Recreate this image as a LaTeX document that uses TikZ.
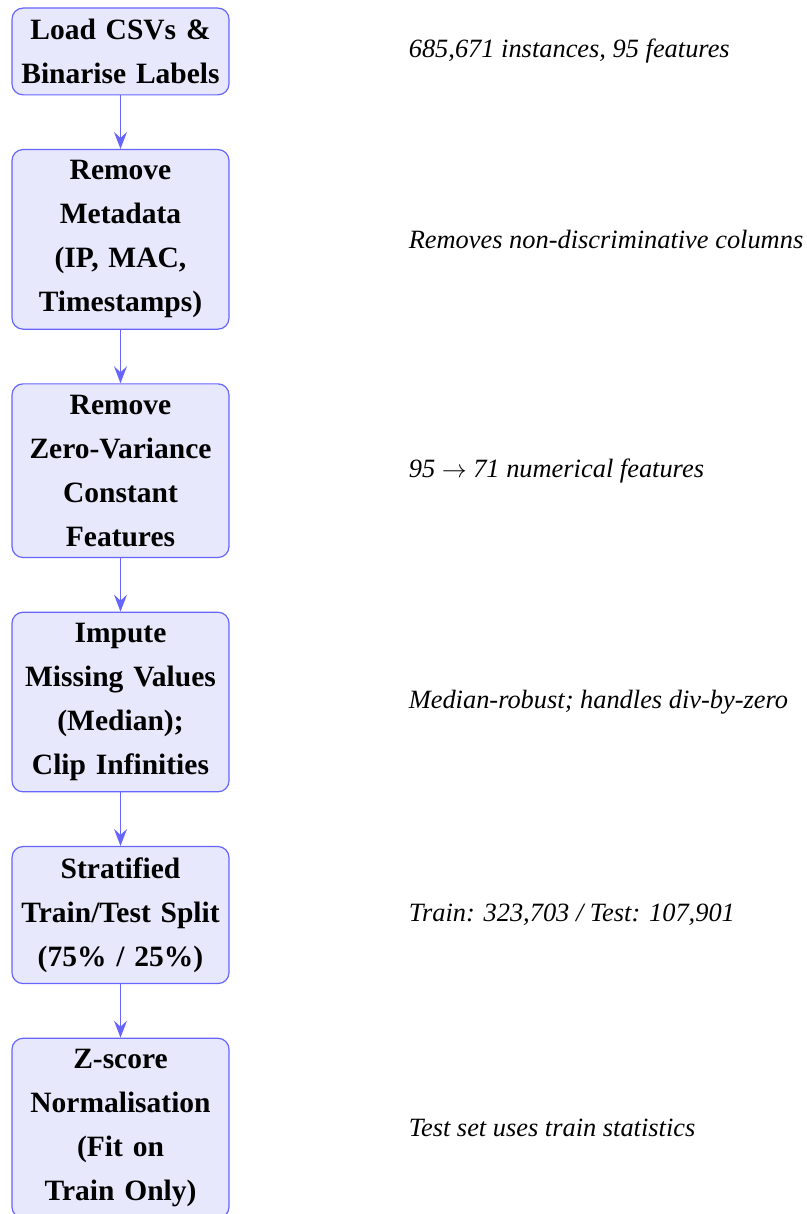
\documentclass[tikz,border=0pt]{standalone}
\usepackage{fontspec}
\setmainfont{Liberation Serif}
\usetikzlibrary{positioning,arrows.meta}
\definecolor{boxfill}{RGB}{232,232,252}
\definecolor{boxline}{RGB}{102,102,255}
\tikzset{
  stepbox/.style={draw=boxline, fill=boxfill, line width=1.2pt, rounded corners=11pt,
    text width=210pt, align=center, inner xsep=3.5pt, inner ysep=11pt,
    font=\fontsize{29.5}{44}\selectfont\bfseries},
  anno/.style={anchor=west, inner sep=0pt, font=\fontsize{26.4}{32}\selectfont\itshape},
  flow/.style={draw=boxline, line width=1.3pt, -{Stealth[length=17pt,width=13pt,inset=6pt]}},
}
\begin{document}
\begin{tikzpicture}[x=1pt,y=1pt]
\useasboundingbox (0,0) rectangle (806,-1214);
\node[stepbox, anchor=north] (b1) at (120.5,-7.5) {Load CSVs \&\\Binarise Labels};
\node[stepbox, below=53.5pt of b1] (b2) {Remove\\Metadata\\(IP, MAC,\\Timestamps)};
\node[stepbox, below=53.5pt of b2] (b3) {Remove\\Zero-Variance\\Constant\\Features};
\node[stepbox, below=53.5pt of b3] (b4) {Impute\\Missing Values\\(Median);\\Clip Infinities};
\node[stepbox, below=53.5pt of b4] (b5) {Stratified\\Train/Test Split\\(75\% / 25\%)};
\node[stepbox, below=53.5pt of b5] (b6) {Z-score\\Normalisation\\(Fit on\\Train Only)};
\draw[flow] (b1) -- (b2);
\draw[flow] (b2) -- (b3);
\draw[flow] (b3) -- (b4);
\draw[flow] (b4) -- (b5);
\draw[flow] (b5) -- (b6);
\node[anno, right=179pt of b1] (a1) {685,671 instances, 95 features};
\node[anno, right=179pt of b2] (a2) {Removes non-discriminative columns};
\node[anno, right=179pt of b3] (a3) {95 $\rightarrow$ 71 numerical features};
\node[anno, right=179pt of b4] (a4) {Median-robust; handles div-by-zero};
\node[anno, right=179pt of b5] (a5) {Train: 323,703 / Test: 107,901};
\node[anno, right=179pt of b6] (a6) {Test set uses train statistics};
\end{tikzpicture}
\end{document}
